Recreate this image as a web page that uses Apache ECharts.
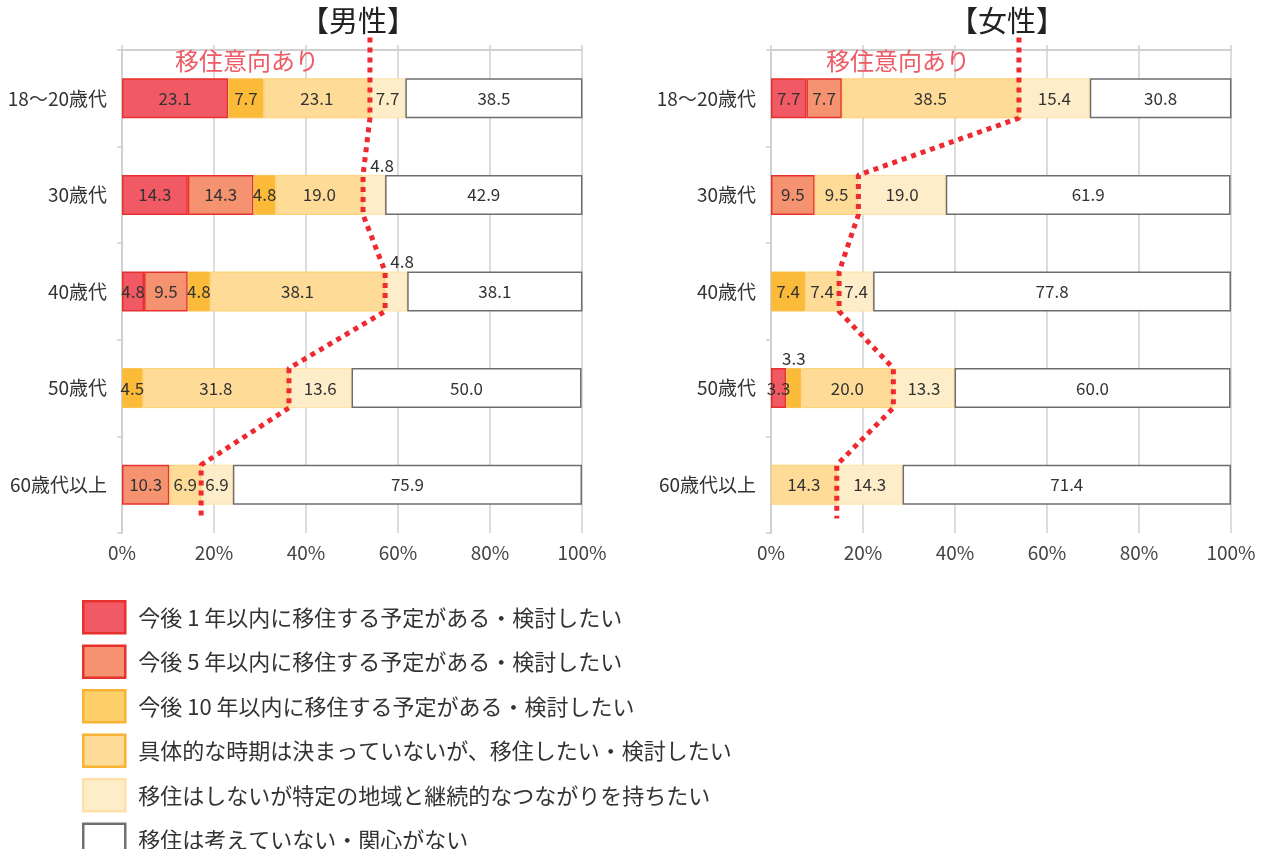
<!DOCTYPE html>
<html>
<head>
<meta charset="utf-8">
<script src="https://cdn.jsdelivr.net/npm/echarts@6/dist/echarts.min.js"></script>
<style>
html,body{margin:0;padding:0;background:#fff;}
#c{width:1261px;height:849px;}
</style>
</head>
<body>
<div id="c"></div>
<script>
const categories = ['18〜20歳代', '30歳代', '40歳代', '50歳代', '60歳代以上'];
const seriesNames = [
  '今後 1 年以内に移住する予定がある・検討したい',
  '今後 5 年以内に移住する予定がある・検討したい',
  '今後 10 年以内に移住する予定がある・検討したい',
  '具体的な時期は決まっていないが、移住したい・検討したい',
  '移住はしないが特定の地域と継続的なつながりを持ちたい',
  '移住は考えていない・関心がない'
];
// 男性
const male1 = [23.1, 14.3, 4.8, 0, 0];
const male2 = [0, 14.3, 9.5, 0, 10.3];
const male3 = [7.7, 4.8, 4.8, 4.5, 0];
const male4 = [23.1, 19.0, 38.1, 31.8, 6.9];
const male5 = [7.7, 4.8, 4.8, 13.6, 6.9];
const male6 = [38.5, 42.9, 38.1, 50.0, 75.9];
// 女性
const female1 = [7.7, 0, 0, 3.3, 0];
const female2 = [7.7, 9.5, 0, 0, 0];
const female3 = [0, 0, 7.4, 3.3, 0];
const female4 = [38.5, 9.5, 7.4, 20.0, 14.3];
const female5 = [15.4, 19.0, 7.4, 13.3, 14.3];
const female6 = [30.8, 61.9, 77.8, 60.0, 71.4];
const xTickValues = [0, 20, 40, 60, 80, 100];

const maleData = [male1, male2, male3, male4, male5, male6];
const femaleData = [female1, female2, female3, female4, female5, female6];
// labels placed above small segments: [seriesIndex, categoryIndex, offsetX]
const maleOutside = [[4, 1, 8], [4, 2, 6]];
const femaleOutside = [[2, 3, 0]];

const FONT = "'Noto Sans CJK JP', sans-serif";
const styles = [
  {color: '#F15A64', borderColor: '#E8302F', borderWidth: 1.5},
  {color: '#F5926F', borderColor: '#E8302F', borderWidth: 1.5},
  {color: '#FBBA38', borderColor: '#F9C050', borderWidth: 1},
  {color: '#FEDC98', borderColor: '#FCD070', borderWidth: 1},
  {color: '#FEEDC9', borderColor: '#FEE2A6', borderWidth: 1},
  {color: '#FFFFFF', borderColor: '#6E6E6E', borderWidth: 1.5}
];
const legendStyles = [
  {borderColor: '#E8302F'},
  {borderColor: '#E8302F'},
  {color: '#FDD06A', borderColor: '#F9B233'},
  {borderColor: '#F9B233'},
  {borderColor: '#FEE0A8'},
  {borderColor: '#707070'}
];

function makeBars(data, outside, xi, yi, stack) {
  return data.map((arr, s) => ({
    name: seriesNames[s],
    type: 'bar',
    stack: stack,
    xAxisIndex: xi,
    yAxisIndex: yi,
    barWidth: 40,
    itemStyle: styles[s],
    label: {
      show: true, position: 'inside', color: '#333', fontSize: 17,
      fontFamily: FONT,
      formatter: p => Number(p.value).toFixed(1)
    },
    data: arr.map((v, c) => {
      if (v === 0) return '-';
      const o = outside.find(q => q[0] === s && q[1] === c);
      if (o) return {value: v, label: {position: 'top', distance: 1, offset: [o[2], 0]}};
      return v;
    })
  }));
}

function cumIntent(data) {
  return categories.map((_, c) => {
    let t = 0;
    for (let s = 0; s < 4; s++) t += data[s][c];
    return Math.round(t * 10) / 10;
  });
}
function linePoints(cum) {
  const h = 0.205;
  const pts = [[cum[0], -0.13]];
  cum.forEach((v, i) => {
    pts.push([v, i + 0.5 - h]);
    pts.push([v, i + 0.5 + h]);
  });
  pts.push([cum[cum.length - 1], 4.85]);
  return pts;
}
function makeLine(data, xi, yi) {
  return {
    type: 'line', xAxisIndex: xi, yAxisIndex: yi, z: 10,
    symbol: 'none', clip: false, silent: true,
    lineStyle: {color: '#EE2A30', width: 5, type: [5, 5], cap: 'butt'},
    data: linePoints(cumIntent(data))
  };
}

const grids = [
  {left: 122, top: 50, width: 460, height: 483},
  {left: 771, top: 50, width: 460, height: 483}
];
const xAxes = [];
const yAxes = [];
[0, 1].forEach(g => {
  xAxes.push({
    gridIndex: g, type: 'value', min: xTickValues[0], max: xTickValues[xTickValues.length - 1], interval: 20,
    position: 'bottom',
    axisLine: {show: false}, axisTick: {show: false},
    axisLabel: {formatter: '{value}%', color: '#444', fontSize: 19, margin: 10, fontFamily: FONT},
    splitLine: {show: true, lineStyle: {color: '#D0D0D0', width: 1.5}}
  });
  xAxes.push({
    gridIndex: g, type: 'value', min: xTickValues[0], max: xTickValues[xTickValues.length - 1], interval: 20,
    position: 'top',
    axisLine: {show: true, lineStyle: {color: '#D0D0D0', width: 2}},
    axisTick: {show: true, length: 5, lineStyle: {color: '#D0D0D0', width: 1.5}},
    axisLabel: {show: false}, splitLine: {show: false}
  });
  yAxes.push({
    gridIndex: g, type: 'category', data: categories, inverse: true,
    axisLine: {show: true, lineStyle: {color: '#D0D0D0', width: 2}},
    axisTick: {show: true, length: 5, lineStyle: {color: '#D0D0D0', width: 1.5}},
    axisLabel: {color: '#333', fontSize: 19, margin: 15, fontFamily: FONT}
  });
  yAxes.push({
    gridIndex: g, type: 'value', min: 0, max: 5, inverse: true, show: false
  });
});

const series = [].concat(
  makeBars(maleData, maleOutside, 0, 0, 'male'),
  makeBars(femaleData, femaleOutside, 2, 2, 'female'),
  [makeLine(maleData, 0, 1), makeLine(femaleData, 2, 3)]
);

const chart = echarts.init(document.getElementById('c'));
chart.setOption({
  backgroundColor: '#fff',
  animation: false,
  textStyle: {fontFamily: FONT},
  title: [
    {text: '【男性】', left: 353, textAlign: 'center', top: 1,
     textStyle: {fontSize: 29, fontWeight: 'normal', color: '#222', fontFamily: FONT}},
    {text: '【女性】', left: 1002, textAlign: 'center', top: 1,
     textStyle: {fontSize: 29, fontWeight: 'normal', color: '#222', fontFamily: FONT}}
  ],
  graphic: [
    {type: 'text', left: 175, top: 49, z: 20,
     style: {text: '移住意向あり', fill: '#EE5A66', fontSize: 24, fontFamily: FONT}},
    {type: 'text', left: 826, top: 49, z: 20,
     style: {text: '移住意向あり', fill: '#EE5A66', fontSize: 24, fontFamily: FONT}}
  ],
  legend: {
    orient: 'vertical', left: 77, top: 595, height: 320,
    itemWidth: 42, itemHeight: 32, itemGap: 10,
    icon: 'rect',
    data: seriesNames.map((n, i) => ({name: n, itemStyle: legendStyles[i]})),
    itemStyle: {borderWidth: 2.5},
    textStyle: {fontSize: 22, color: '#333', fontFamily: FONT, padding: [0, 0, 0, 8]},
    selectedMode: false
  },
  grid: grids,
  xAxis: xAxes,
  yAxis: yAxes,
  series: series
});
</script>
</body>
</html>
